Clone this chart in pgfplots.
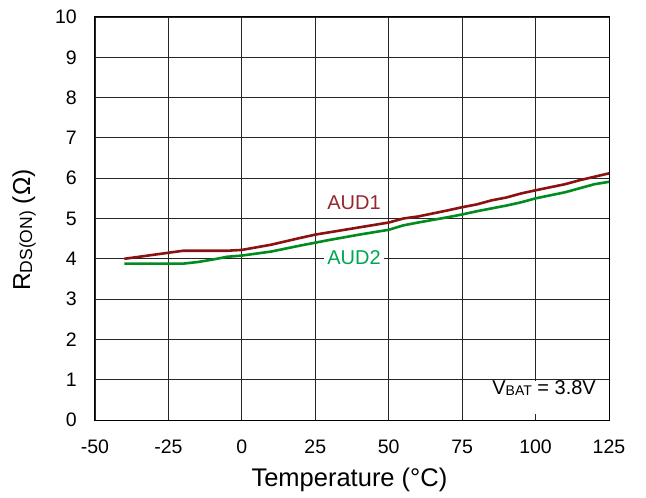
\documentclass[border=0pt]{standalone}
\usepackage{fontspec}
\setmainfont{Liberation Sans}
\usepackage{pgfplots}
\pgfplotsset{compat=1.18}
\definecolor{audred}{RGB}{140,18,18}
\definecolor{audredtxt}{RGB}{150,40,45}
\definecolor{audgreen}{RGB}{0,140,30}
\definecolor{audgreentxt}{RGB}{0,165,80}
\begin{document}
\begin{tikzpicture}
\begin{axis}[
  scale only axis,
  width=514pt, height=403pt,
  xmin=-50, xmax=125, ymin=0, ymax=10,
  xtick={-50,-25,0,25,50,75,100,125},
  ytick={0,1,2,3,4,5,6,7,8,9,10},
  grid=major,
  major grid style={black!85, line width=0.9pt},
  axis line style={black, line width=1pt},
  major tick length=0pt,
  /pgf/number format/assume math mode=true,
  tick label style={font=\fontsize{19.5}{22}\selectfont},
  yticklabel style={inner sep=0pt, xshift=-18pt},
  xticklabel style={inner sep=0pt, yshift=-20pt},
  xlabel={Temperature (°C)},
  ylabel={R\raisebox{-0.15ex}{\fontsize{17.5}{17.5}\selectfont DS(ON)} (Ω)},
  xlabel style={font=\fontsize{25.5}{28}\selectfont, at={(axis description cs:0.495,-0.149)}, anchor=center},
  ylabel style={font=\fontsize{24.5}{28}\selectfont, at={(axis description cs:-0.138,0.471)}, anchor=center, rotate=0},
  clip=false,
]
\addplot[audred, line width=2.6pt, line join=round] coordinates {
(-40,4.00) (-30,4.10) (-20,4.20) (-10,4.20) (-5,4.20) (0,4.22) (10,4.35) (20,4.52) (25,4.60) (30,4.66) (40,4.78) (50,4.90) (55,5.00) (60,5.05) (70,5.20) (75,5.28) (80,5.35) (85,5.45) (90,5.52) (95,5.62) (100,5.70) (110,5.85) (115,5.95) (125,6.12)
};
\addplot[audgreen, line width=2.6pt, line join=round] coordinates {
(-40,3.88) (-20,3.88) (-15,3.92) (-10,3.98) (-5,4.05) (0,4.08) (10,4.18) (20,4.33) (25,4.40) (30,4.47) (40,4.60) (50,4.72) (55,4.83) (60,4.90) (70,5.03) (75,5.10) (80,5.18) (90,5.32) (95,5.40) (100,5.50) (110,5.65) (115,5.75) (120,5.85) (125,5.91)
};
\node[fill=white, inner xsep=3pt, inner ysep=3pt, text=audredtxt, font=\fontsize{20}{24}\selectfont] at (axis cs:38.2,5.38) {AUD1};
\node[fill=white, inner xsep=3pt, inner ysep=3pt, text=audgreentxt, font=\fontsize{20}{24}\selectfont] at (axis cs:38.2,4.04) {AUD2};
\fill[white] (axis cs:76,0.15) rectangle (axis cs:124.4,0.97);
\node[font=\fontsize{20}{24}\selectfont, inner sep=0pt] at (axis cs:102.9,0.79) {V\raisebox{-0.15ex}{\fontsize{14}{14}\selectfont BAT} = 3.8V};
\end{axis}
\pgfresetboundingbox
\path[use as bounding box] ([shift={(-95pt,-77pt)}]current axis.south west) rectangle ([shift={(37pt,17pt)}]current axis.north east);
\end{tikzpicture}
\end{document}
